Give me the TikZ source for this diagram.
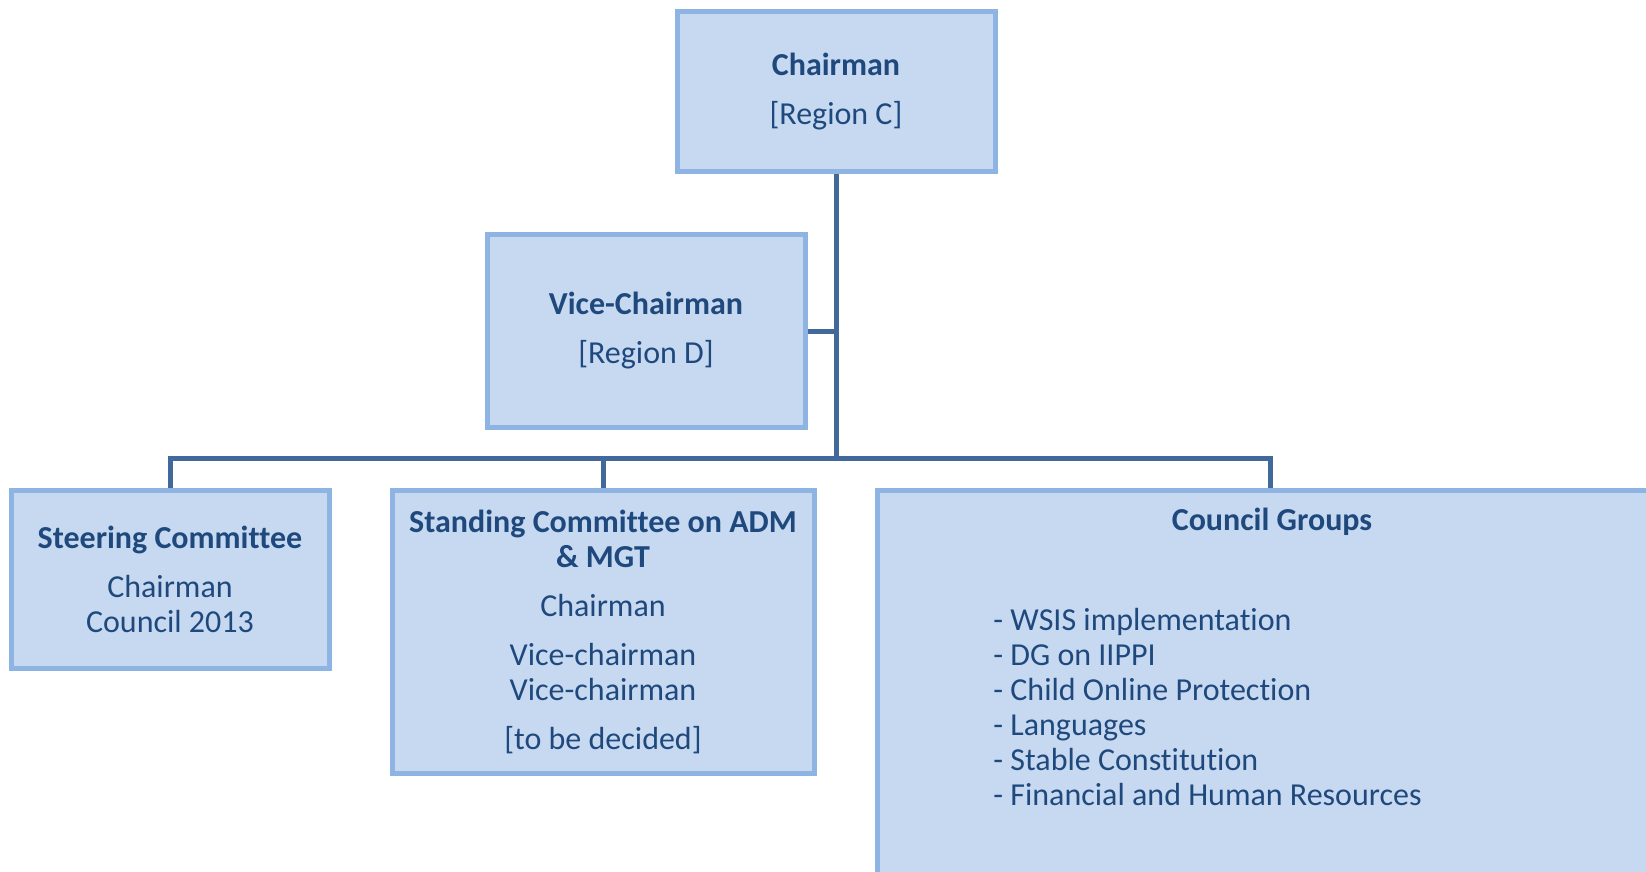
\documentclass[tikz,border=0pt]{standalone}
\usepackage{fontspec}
\setmainfont{Carlito}[Ligatures=NoCommon]
\usepackage{tikz}

\definecolor{boxfill}{HTML}{C6D9F1}
\definecolor{boxline}{HTML}{8DB4E2}
\definecolor{boxtext}{HTML}{1F497D}
\definecolor{linkline}{HTML}{41699B}

\tikzset{
    orgbox/.style={draw=boxline, fill=boxfill, line width=2.5pt, inner sep=0pt,
        text=boxtext, align=center, font=\fontsize{16}{17.5}\selectfont},
    orglink/.style={draw=linkline, line width=2.5pt}
}

\begin{document}
\begin{tikzpicture}[x=0.5pt, y=-0.5pt]
    \useasboundingbox (0,0) rectangle (1646,872);
    \clip (0,0) rectangle (1646,872);
    \node[orgbox, minimum width=159pt, minimum height=80pt] (chair) at (836,92)
        {\textbf{Chairman}\\[7pt]{[Region C]}};
    \node[orgbox, minimum width=159pt, minimum height=96pt] (vice) at (646,331)
        {\textbf{Vice-Chairman}\\[7pt]{[Region D]}};
    \node[orgbox, minimum width=159pt, minimum height=89pt] (steer) at (170,579)
        {\textbf{Steering Committee}\\[7pt]Chairman\\Council 2013};
    \node[orgbox, minimum width=211pt, minimum height=141.5pt] (stand) at (603,631.5)
        {\textbf{Standing Committee on ADM}\\\textbf{\& MGT}\\[7pt]Chairman\\[7pt]Vice-chairman\\Vice-chairman\\[7pt]{[to be decided]}};
    \node[orgbox, minimum width=393pt, minimum height=207.5pt] (council) at (1270,697.5) {};
    \node[text=boxtext, font=\fontsize{16}{17.5}\selectfont\bfseries] (cgtitle) at (1272,522) {Council Groups};
    \node[text=boxtext, font=\fontsize{16}{17.5}\selectfont, align=left, anchor=west, inner sep=0pt] (cglist) at (993,707)
        {- WSIS implementation\\- DG on IIPPI\\- Child Online Protection\\- Languages\\- Stable Constitution\\- Financial and Human Resources};

    \coordinate (bus) at (836,458);
    \draw[orglink] (chair.south) -- (bus);
    \draw[orglink] (vice.east) -- (vice.east -| bus);
    \draw[orglink] (steer.north) -- (steer.north |- bus) -- (council.north |- bus) -- (council.north);
    \draw[orglink] (stand.north) -- (stand.north |- bus);
\end{tikzpicture}
\end{document}
